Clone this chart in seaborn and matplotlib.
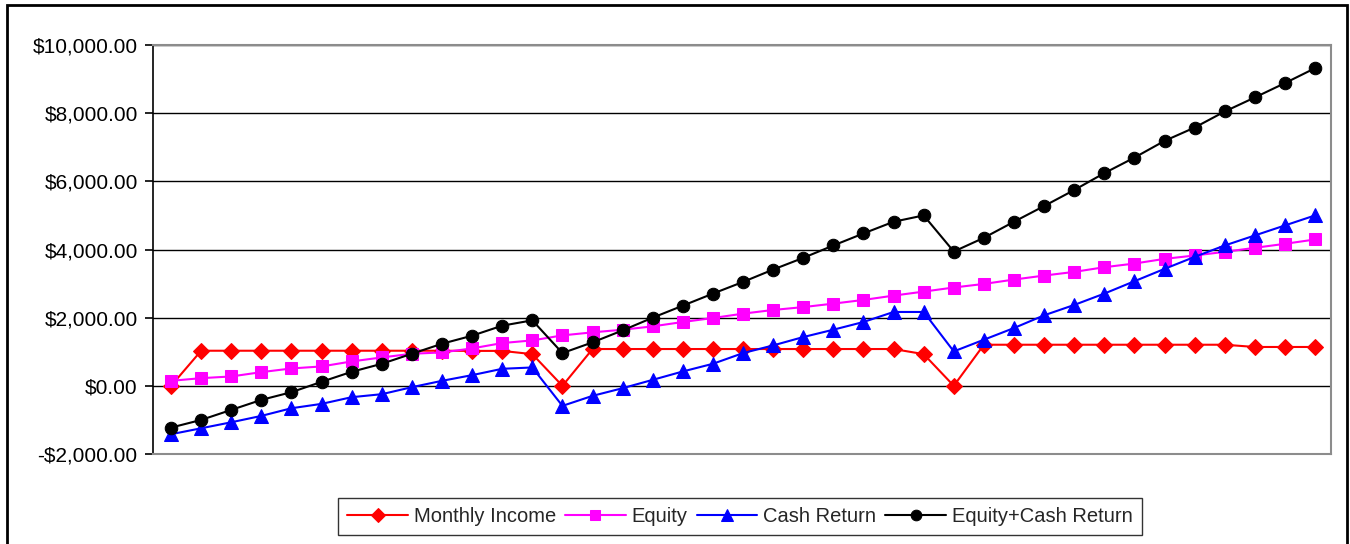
import matplotlib
matplotlib.use("Agg")
import matplotlib.pyplot as plt
import matplotlib.patches as patches
from matplotlib.ticker import FuncFormatter, MultipleLocator
import seaborn as sns
import numpy as np

periods = list(range(39))

monthly_income = [0, 1030, 1030, 1030, 1030, 1030, 1030, 1030, 1030, 1030, 1025, 1025, 930,
                  0, 1080, 1080, 1080, 1080, 1080, 1080, 1080, 1080, 1080, 1080, 1080, 930,
                  0, 1206, 1206, 1206, 1206, 1206, 1206, 1206, 1206, 1206, 1140, 1140, 1140]

equity = [147, 225, 275, 402, 510, 569, 716, 833, 941, 980, 1098, 1255, 1333,
          1480, 1569, 1647, 1745, 1873, 1990, 2118, 2226, 2310, 2412, 2520, 2647, 2765,
          2885, 2990, 3118, 3235, 3343, 3480, 3588, 3725, 3824, 3931, 4049, 4167, 4294]

cash_return = [-1420, -1245, -1069, -882, -657, -529, -333, -245, -39, 147, 314, 500, 539,
               -588, -294, -69, 176, 422, 647, 961, 1186, 1431, 1647, 1873, 2167, 2167,
               1010, 1353, 1696, 2069, 2373, 2706, 3069, 3431, 3784, 4118, 4412, 4706, 5000]

equity_cash = [-1225, -1000, -706, -412, -186, 118, 412, 647, 941, 1235, 1471, 1765, 1922,
               961, 1275, 1627, 2000, 2353, 2706, 3049, 3412, 3755, 4118, 4471, 4814, 5000,
               3940, 4343, 4814, 5275, 5745, 6240, 6696, 7186, 7578, 8049, 8461, 8882, 9320]

series_names = ["Monthly Income", "Equity", "Cash Return", "Equity+Cash Return"]
series_values = [monthly_income, equity, cash_return, equity_cash]
colors = ["#FF0000", "#FF00FF", "#0000FF", "#000000"]
markers = ["D", "s", "^", "o"]
msizes = [8, 8, 10, 9]

sns.set_theme(style="white")
plt.rcParams['font.family'] = ['Liberation Sans', 'DejaVu Sans']

fig = plt.figure(figsize=(13.5, 5.44), dpi=100)
ax = fig.add_axes([153/1350, 1 - 454/544, (1331-153)/1350, (454-45)/544])

for name, vals, c, m, ms in zip(series_names, series_values, colors, markers, msizes):
    sns.lineplot(x=periods, y=vals, ax=ax, color=c, marker=m, markersize=ms,
                 markeredgecolor=c, linewidth=1.5, label=name, legend=False)

ax.set_xlim(-0.6, 38.53)
ax.set_ylim(-2000, 10000)
ax.yaxis.set_major_locator(MultipleLocator(2000))
ax.yaxis.set_major_formatter(FuncFormatter(
    lambda v, p: ("-$" if v < 0 else "$") + f"{abs(v):,.2f}"))
ax.set_xticks([])
ax.set_xlabel("")
ax.set_ylabel("")
ax.grid(axis="y", color="black", linewidth=1.0)
ax.set_axisbelow(True)
for s in ["top", "right", "bottom"]:
    ax.spines[s].set_color("#8c8c8c")
    ax.spines[s].set_linewidth(1.5)
ax.spines["left"].set_color("black")
ax.spines["left"].set_linewidth(1.2)
ax.tick_params(axis="y", which="major", left=True, length=6, width=1.2,
               color="black", labelsize=15, pad=5, labelcolor="black")

handles, labels = ax.get_legend_handles_labels()
leg = fig.legend(handles, labels, loc="center", bbox_to_anchor=(740/1350, 1 - 516.5/544),
                 ncol=4, frameon=True, fancybox=False, shadow=False, fontsize=14.5,
                 handlelength=3.0, handletextpad=0.3, columnspacing=0.45,
                 borderpad=0.45, borderaxespad=0, markerscale=0.85)
leg.get_frame().set_edgecolor("black")
leg.get_frame().set_linewidth(1.0)

fig.patches.append(patches.Rectangle((7/1350, -0.02), (1347-7)/1350, 1.02 - 5/544,
                                     transform=fig.transFigure, fill=False,
                                     edgecolor="black", linewidth=2.0))

fig.savefig("out.png", dpi=100)
